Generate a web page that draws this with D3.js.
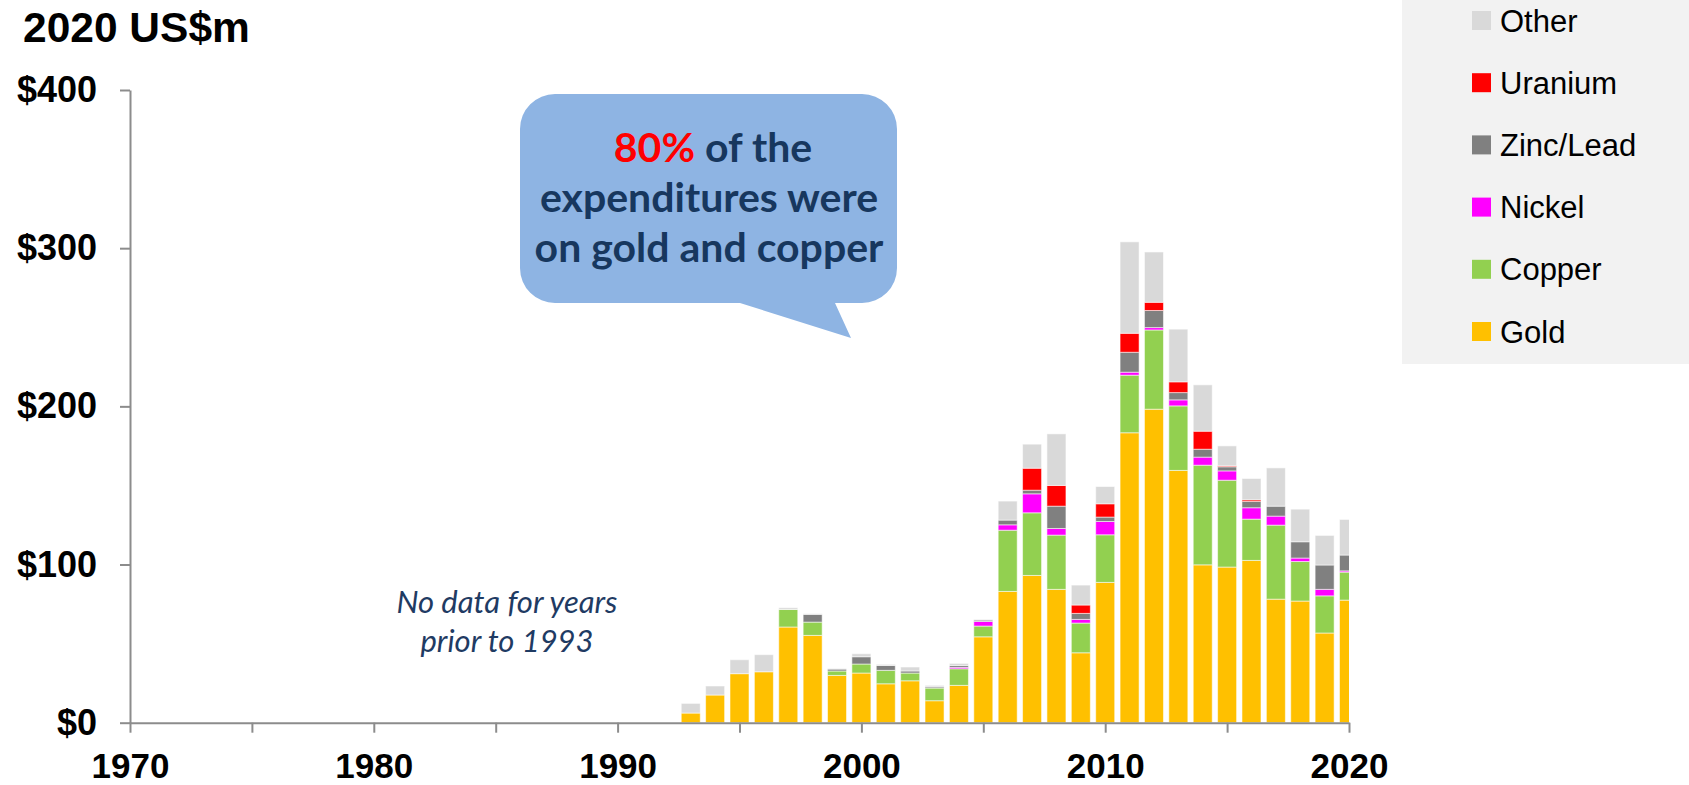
<!DOCTYPE html>
<html>
<head>
<meta charset="utf-8">
<script src="https://cdn.jsdelivr.net/npm/d3@7"></script>
<style>
  html, body { margin: 0; padding: 0; background: #ffffff; }
  svg { display: block; }
</style>
</head>
<body>
<svg id="chart" width="1689" height="785"></svg>
<script>
// Exploration expenditure by commodity, 2020 US$m
const years = [1993, 1994, 1995, 1996, 1997, 1998, 1999, 2000, 2001, 2002, 2003, 2004, 2005, 2006,
               2007, 2008, 2009, 2010, 2011, 2012, 2013, 2014, 2015, 2016, 2017, 2018, 2019, 2020];
const gold    = [6.1, 17.5, 31.0, 32.2, 60.5, 55.2, 29.9, 31.4, 24.6, 26.5, 13.9, 23.6, 54.3, 83.0,
                 93.1, 84.3, 44.2, 88.7, 183.3, 198.2, 159.5, 99.8, 98.4, 102.6, 78.1, 76.9, 56.7, 77.5];
const copper  = [0, 0, 0, 0, 11.1, 8.4, 2.8, 5.7, 8.5, 4.9, 8.0, 10.5, 6.8, 38.7,
                 39.6, 34.3, 18.8, 30.1, 36.4, 50.1, 40.8, 63.0, 54.9, 26.1, 46.8, 25.0, 23.5, 17.7];
const nickel  = [0, 0, 0, 0, 0, 0, 0, 0, 0, 0, 0, 0.9, 2.9, 3.4,
                 12.0, 4.2, 2.3, 8.4, 1.9, 1.5, 3.8, 5.1, 5.9, 7.2, 5.7, 2.2, 4.1, 0.8];
const zincLead = [0, 0, 0, 0, 0, 4.9, 1.2, 4.6, 3.1, 1.3, 0.8, 1.2, 0.9, 3.0,
                  2.3, 14.1, 3.8, 2.8, 12.6, 10.8, 4.6, 5.0, 2.6, 4.0, 6.3, 10.3, 15.4, 10.0];
const uranium = [0, 0, 0, 0, 0, 0, 0, 0, 0, 0, 0, 0, 0, 0,
                 13.9, 13.1, 5.3, 8.4, 12.0, 5.2, 6.8, 11.4, 0.6, 1.0, 0, 0, 0, 0];
const other   = [6.1, 5.7, 8.8, 10.8, 1.1, 0.4, 0.3, 1.9, 0.7, 2.5, 0.9, 1.3, 0.4, 12.0,
                 15.2, 32.6, 12.6, 10.9, 57.8, 31.8, 33.3, 29.3, 12.6, 13.5, 24.2, 20.6, 18.7, 22.5];

// Series in stacking order (bottom to top)
const seriesKeys   = ["Gold", "Copper", "Nickel", "Zinc/Lead", "Uranium", "Other"];
const seriesValues = [gold, copper, nickel, zincLead, uranium, other];
const seriesColors = ["#FFC000", "#92D050", "#FF00FF", "#808080", "#FF0000", "#D9D9D9"];

const yTicks = [0, 100, 200, 300, 400];
const xTicks = [1970, 1975, 1980, 1985, 1990, 1995, 2000, 2005, 2010, 2015, 2020];

const unitLabel = "2020 US$m";
const noteLines = ["No data for years", "prior to 1993"];

const rows = years.map((yr, i) => {
  const r = { year: yr };
  seriesKeys.forEach((k, j) => { r[k] = seriesValues[j][i]; });
  return r;
});

const svg = d3.select("#chart");
const axisFont = "'Liberation Sans', Arial, Helvetica, sans-serif";

const x = d3.scaleLinear().domain([1970, 2020]).range([130, 1349]);
const y = d3.scaleLinear().domain([0, 400]).range([722.7, 90]);
const color = d3.scaleOrdinal().domain(seriesKeys).range(seriesColors);
const barW = (x(1971) - x(1970)) * 0.78;

// Clip bars to the plotting area
svg.append("defs").append("clipPath").attr("id", "plotClip")
  .append("rect")
  .attr("x", x(1970)).attr("y", 0)
  .attr("width", x(2020) - x(1970)).attr("height", y(0));

// Legend panel
const legend = svg.append("g");
legend.append("rect")
  .attr("x", 1402).attr("y", 0).attr("width", 287).attr("height", 364)
  .attr("fill", "#F2F2F2");
const legendOrder = seriesKeys.slice().reverse();
legendOrder.forEach((k, i) => {
  const cy = 20.5 + i * 62.2;
  legend.append("rect")
    .attr("x", 1472).attr("y", cy - 9.5).attr("width", 19).attr("height", 19)
    .attr("fill", color(k));
  legend.append("text")
    .attr("x", 1500).attr("y", cy).attr("dy", "0.36em")
    .attr("font-family", axisFont).attr("font-size", 31).attr("fill", "#000")
    .text(k);
});

// Stacked bars
const stacked = d3.stack().keys(seriesKeys)(rows);
svg.append("g").attr("clip-path", "url(#plotClip)")
  .selectAll("g").data(stacked).join("g")
  .attr("fill", d => color(d.key))
  .selectAll("rect").data(d => d.filter(s => s[1] - s[0] > 0)).join("rect")
  .attr("x", d => x(d.data.year) - barW / 2)
  .attr("width", barW)
  .attr("y", d => y(d[1]))
  .attr("height", d => y(d[0]) - y(d[1]))
  .attr("stroke", "rgba(255,255,255,0.55)")
  .attr("stroke-width", 1);

// Axes
const yAxis = svg.append("g").attr("transform", `translate(${x(1970)},0)`)
  .call(d3.axisLeft(y).tickValues(yTicks).tickFormat(d => "$" + d)
    .tickSize(10).tickSizeOuter(0).tickPadding(23));
const xAxis = svg.append("g").attr("transform", `translate(0,${y(0)})`)
  .call(d3.axisBottom(x).tickValues(xTicks).tickFormat(d => d % 10 === 0 ? d : "")
    .tickSize(10).tickSizeOuter(0).tickPadding(20));
[yAxis, xAxis].forEach(a => {
  a.select(".domain").attr("stroke", "#8C8C8C").attr("stroke-width", 2);
  a.selectAll(".tick line").attr("stroke", "#8C8C8C").attr("stroke-width", 2);
  a.selectAll("text").attr("font-family", axisFont)
    .attr("font-weight", "bold").attr("fill", "#000");
});
yAxis.selectAll("text").attr("font-size", 36);
xAxis.selectAll("text").attr("font-size", 35);

// Unit label
svg.append("text")
  .attr("x", 23).attr("y", 42)
  .attr("font-family", axisFont).attr("font-size", 42.5).attr("font-weight", "bold")
  .attr("fill", "#000").text(unitLabel);

// Note about missing years
svg.append("g").selectAll("text").data(noteLines).join("text")
  .attr("x", 507).attr("y", (d, i) => 613 + i * 38.5)
  .attr("text-anchor", "middle")
  .attr("font-family", "Lato, 'Open Sans', sans-serif").attr("font-style", "italic")
  .attr("font-size", 31).attr("fill", "#1F3B63")
  .text(d => d);

// Callout bubble
const bx0 = 520, bx1 = 897, by0 = 94, by1 = 303, r = 35;
const tail = { l: 740, rgt: 835, tipX: 851, tipY: 338 };
const bubble = d3.path();
bubble.moveTo(bx0 + r, by0);
bubble.lineTo(bx1 - r, by0);
bubble.arcTo(bx1, by0, bx1, by0 + r, r);
bubble.lineTo(bx1, by1 - r);
bubble.arcTo(bx1, by1, bx1 - r, by1, r);
bubble.lineTo(tail.rgt, by1);
bubble.lineTo(tail.tipX, tail.tipY);
bubble.lineTo(tail.l, by1);
bubble.lineTo(bx0 + r, by1);
bubble.arcTo(bx0, by1, bx0, by1 - r, r);
bubble.lineTo(bx0, by0 + r);
bubble.arcTo(bx0, by0, bx0 + r, by0, r);
bubble.closePath();
svg.append("path").attr("d", bubble.toString()).attr("fill", "#8EB4E3");

const calloutFont = "Lato, 'Open Sans', sans-serif";
const cx = 709;
const t1 = svg.append("text").attr("x", cx + 4).attr("y", 162).attr("text-anchor", "middle")
  .attr("font-family", calloutFont).attr("font-weight", "bold").attr("font-size", 41)
  .attr("fill", "#17375E");
t1.append("tspan").attr("fill", "#FF0000").text("80%");
t1.append("tspan").text(" of the");
svg.append("text").attr("x", cx).attr("y", 212).attr("text-anchor", "middle")
  .attr("font-family", calloutFont).attr("font-weight", "bold").attr("font-size", 41)
  .attr("fill", "#17375E").text("expenditures were");
svg.append("text").attr("x", cx).attr("y", 262).attr("text-anchor", "middle")
  .attr("font-family", calloutFont).attr("font-weight", "bold").attr("font-size", 41)
  .attr("fill", "#17375E").text("on gold and copper");
</script>
</body>
</html>
